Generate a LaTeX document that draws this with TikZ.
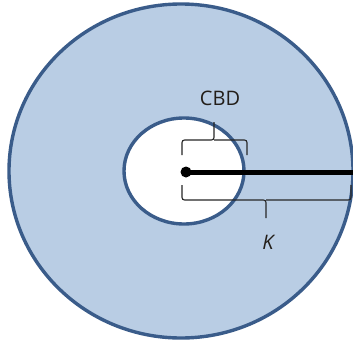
\documentclass[tikz,border=0pt]{standalone}
\usepackage{fontspec}
\setmainfont{Open Sans}
\usepackage{xcolor}
\usepackage{tikz}
\usetikzlibrary{positioning}
\definecolor{ringblue}{RGB}{58,92,138}
\definecolor{ringfill}{RGB}{185,205,228}
\definecolor{labelgray}{RGB}{35,30,25}

\begin{document}
\begin{tikzpicture}[
  x=1pt, y=1pt,
  ring/.style={draw=ringblue, line width=3.4pt},
  bracepath/.style={draw=black!85, line width=1.1pt, rounded corners=2.5pt},
  lbl/.style={text=labelgray, font=\fontsize{20}{24}\selectfont, inner sep=0pt}
]
  \useasboundingbox (0,0) rectangle (353,341);
  % city area and centre
  \draw[ring, fill=ringfill] (181,170) ellipse [x radius=172, y radius=167];
  \draw[ring, fill=white] (184,170) ellipse [x radius=60, y radius=53];
  % centre point and radius
  \node[circle, fill=black, inner sep=0pt, minimum size=11pt] (cbd) at (186,169) {};
  \coordinate (edge) at (353,169);
  \draw[line width=5pt] (cbd.center) -- (edge);
  % braces
  \draw[bracepath] (182,186) -- (182,201) -- (214,201) -- (214,219);
  \draw[bracepath] (214,201) -- (247,201) -- (247,186);
  \draw[bracepath] (182,156) -- (182,141) -- (266,141) -- (266,123);
  \draw[bracepath] (266,141) -- (351,141) -- (351,156);
  % labels
  \node[lbl] (cbdlabel) at (220,243) {CBD};
  \node[lbl, font=\fontsize{20}{24}\selectfont\itshape] (klabel) at (268,99) {K};
\end{tikzpicture}
\end{document}
